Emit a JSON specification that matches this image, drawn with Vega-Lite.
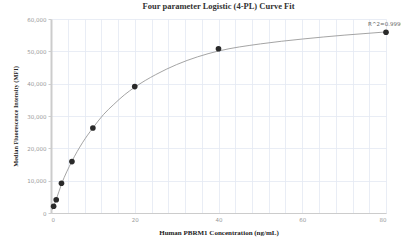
{
  "$schema": "https://vega.github.io/schema/vega-lite/v6.json",
  "width": 335,
  "height": 194,
  "autosize": {"type": "none"},
  "padding": {"left": 51, "top": 19, "right": 15, "bottom": 30},
  "background": "white",
  "title": {
    "text": "Four parameter Logistic (4-PL) Curve Fit",
    "font": "Liberation Serif",
    "fontSize": 8.5,
    "fontWeight": "bold",
    "color": "#333",
    "anchor": "middle",
    "offset": 7
  },
  "config": {
    "view": {"stroke": null},
    "axis": {
      "labelFont": "DejaVu Sans",
      "labelFontSize": 5.5,
      "labelColor": "#999",
      "labelOverlap": false,
      "titleFont": "Liberation Serif",
      "titleFontSize": 7,
      "titleFontWeight": "bold",
      "titleColor": "#222",
      "gridColor": "#e3e8f2",
      "gridWidth": 0.8
    }
  },
  "datasets": {
    "curve": [
      {"x": 0.3, "y": 1000}, {"x": 0.625, "y": 2100}, {"x": 1.25, "y": 4200},
      {"x": 2.5, "y": 8900}, {"x": 5, "y": 16000}, {"x": 7.5, "y": 21700},
      {"x": 10, "y": 26300}, {"x": 12.5, "y": 30400}, {"x": 15, "y": 33600},
      {"x": 17.5, "y": 36500}, {"x": 20, "y": 38900}, {"x": 25, "y": 42800},
      {"x": 30, "y": 45900}, {"x": 35, "y": 48300}, {"x": 40, "y": 50100},
      {"x": 50, "y": 52300}, {"x": 60, "y": 53800}, {"x": 70, "y": 55000},
      {"x": 80, "y": 56000}
    ],
    "points": [
      {"x": 0.625, "y": 2100}, {"x": 1.25, "y": 4100}, {"x": 2.5, "y": 9200},
      {"x": 5, "y": 15900}, {"x": 10, "y": 26300}, {"x": 20, "y": 39100},
      {"x": 40, "y": 50800}, {"x": 80, "y": 55900}
    ],
    "label": [{"x": 80, "y": 55900, "text": "R^2=0.9996"}]
  },
  "encoding": {
    "x": {
      "field": "x", "type": "quantitative",
      "scale": {"domain": [0, 80], "nice": false},
      "axis": {
        "title": "Human PBRM1 Concentration (ng/mL)",
        "values": [0, 4, 8, 12, 16, 20, 24, 28, 32, 36, 40, 44, 48, 52, 56, 60, 64, 68, 72, 76, 80],
        "labelExpr": "datum.value % 20 === 0 ? datum.label : ''",
        "labelOverlap": false,
        "format": "d",
        "ticks": false,
        "labelPadding": 4,
        "titlePadding": 6,
        "domainColor": "#cccccc",
        "domainWidth": 1
      }
    },
    "y": {
      "field": "y", "type": "quantitative",
      "scale": {"domain": [0, 60000], "nice": false},
      "axis": {
        "title": "Median Fluorescence Intensity (MFI)",
        "titleFontSize": 6.3,
        "values": [0, 10000, 20000, 30000, 40000, 50000, 60000],
        "labelOverlap": false,
        "format": ",d",
        "tickSize": 3,
        "tickColor": "#cccccc",
        "labelPadding": 2,
        "titlePadding": 8,
        "domainColor": "#cccccc",
        "domainWidth": 2
      }
    }
  },
  "layer": [
    {
      "data": {"name": "curve"},
      "mark": {"type": "line", "color": "#9a9a9a", "strokeWidth": 0.9, "interpolate": "monotone"}
    },
    {
      "data": {"name": "points"},
      "mark": {"type": "circle", "color": "#2a2a2a", "opacity": 1, "size": 32}
    },
    {
      "data": {"name": "label"},
      "mark": {"type": "text", "font": "DejaVu Sans", "fontSize": 5.5, "color": "#666", "align": "center", "dy": -8},
      "encoding": {"text": {"field": "text"}}
    }
  ]
}
